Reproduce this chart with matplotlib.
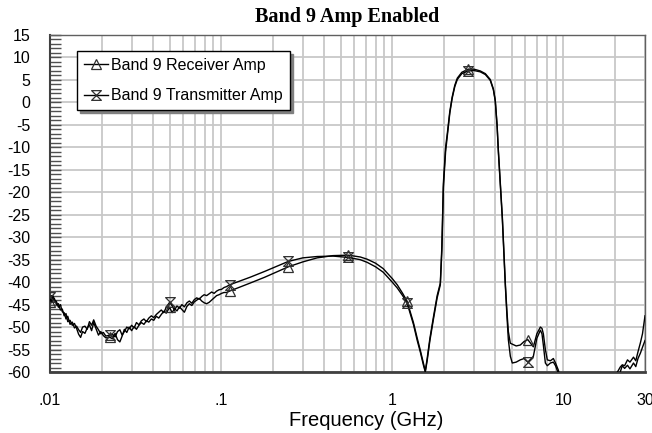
import numpy as np
import matplotlib
matplotlib.use('Agg')
import matplotlib.pyplot as plt
from matplotlib.path import Path
from matplotlib.ticker import FixedLocator, FixedFormatter, MultipleLocator, LogLocator, NullFormatter

title = "Band 9 Amp Enabled"
xlabel = "Frequency (GHz)"
rx_label = "Band 9 Receiver Amp"
tx_label = "Band 9 Transmitter Amp"

xticks = [0.01, 0.1, 1, 10, 30]
xticklabels = [".01", ".1", "1", "10", "30"]
yticks = list(range(-60, 16, 5))

# frequencies where the symbols sit on both traces
marker_freqs = [0.01, 0.0224, 0.05, 0.112, 0.2466, 0.553, 1.22, 2.78, 6.2]

# noisy low band, 0.01 .. 0.112 GHz
low_f = [0.0100, 0.0102, 0.0104, 0.0106, 0.0109, 0.0112, 0.0115, 0.0118, 0.0121, 0.0124,
         0.0127, 0.0131, 0.0135, 0.0139, 0.0143, 0.0147, 0.0151, 0.0155, 0.0160, 0.0165,
         0.0170, 0.0175, 0.0180, 0.0186, 0.0192, 0.0198, 0.0205, 0.0212, 0.0224, 0.0232,
         0.0240, 0.0248, 0.0256, 0.0264, 0.0272, 0.0281, 0.0290, 0.0300, 0.0310, 0.0320,
         0.0331, 0.0342, 0.0354, 0.0366, 0.0378, 0.0391, 0.0404, 0.0418, 0.0432, 0.0447,
         0.0462, 0.0478, 0.0500, 0.0517, 0.0534, 0.0552, 0.0571, 0.0590, 0.0610, 0.0631,
         0.0652, 0.0674, 0.0697, 0.0720, 0.0745, 0.0770, 0.0796, 0.0823, 0.0851, 0.0880,
         0.0910, 0.0941, 0.0973, 0.1006, 0.1040, 0.1075, 0.112]

rx_low = [-44.5, -43.0, -44.2, -43.6, -45.0, -44.8, -46.2, -46.0, -47.5, -47.0,
          -48.8, -48.5, -49.6, -49.2, -50.3, -51.6, -52.3, -51.0, -51.4, -50.2,
          -49.5, -50.8, -49.0, -50.4, -51.8, -51.0, -51.9, -52.4, -52.3, -52.6,
          -51.4, -52.8, -53.3, -52.0, -50.5, -51.2, -50.0, -50.8, -49.9, -50.5,
          -49.6, -49.0, -49.4, -48.6, -48.9, -48.2, -48.5, -47.6, -48.0, -47.2,
          -46.5, -46.9, -45.6, -46.8, -45.9, -46.4, -45.5, -46.1, -46.7, -45.4,
          -44.8, -45.2, -44.4, -44.0, -43.6, -44.2, -44.6, -44.8, -44.5, -44.0,
          -43.5, -43.0, -42.8, -42.5, -42.3, -42.3, -42.0]

tx_low = [-43.2, -44.6, -43.0, -44.0, -44.3, -45.6, -45.0, -46.6, -46.8, -48.2,
          -47.6, -49.4, -48.9, -50.2, -49.8, -50.6, -51.2, -50.0, -49.8, -50.5,
          -48.8, -49.6, -48.4, -49.8, -50.6, -51.5, -51.2, -52.0, -51.8, -51.6,
          -52.2, -51.0, -50.6, -51.8, -51.0, -50.0, -50.4, -49.6, -50.2, -49.0,
          -49.5, -48.6, -48.2, -48.8, -48.0, -47.5, -47.9, -47.2, -46.7, -46.2,
          -46.8, -45.6, -44.5, -45.2, -46.2, -45.3, -45.8, -45.0, -45.5, -44.6,
          -44.2, -44.7, -43.9, -43.5, -43.8, -43.2, -42.8, -43.0, -42.6, -42.2,
          -42.5, -42.0, -41.7, -41.6, -41.2, -41.0, -40.6]

# upper band, 0.148 .. 30 GHz
high_f = [0.148, 0.18, 0.2466, 0.30, 0.364, 0.45, 0.553, 0.65, 0.714, 0.80,
          0.886, 1.0, 1.07, 1.15, 1.22, 1.33, 1.40, 1.46, 1.52, 1.56,
          1.60, 1.66, 1.74, 1.83, 1.91, 1.95, 1.99, 2.05, 2.10, 2.17,
          2.24, 2.32, 2.40, 2.55, 2.78, 3.0, 3.27, 3.5, 3.74, 3.9,
          4.0, 4.1, 4.17, 4.30, 4.40, 4.50, 4.58, 4.68, 4.77, 4.9,
          5.03, 5.3, 5.6, 5.9, 6.2, 6.5, 6.68, 7.0, 7.34, 7.5,
          7.64, 7.85, 8.06, 8.4, 8.74, 9.0, 9.35, 9.6, 12.0, 18.0,
          20.7, 21.5, 22.1, 22.8, 23.7, 24.5, 25.7, 26.5, 27.3, 28.2,
          29.0, 30.0]

rx_high = [-40.2, -38.9, -36.6, -35.5, -34.6, -34.1, -34.0, -34.4, -34.9, -35.8,
           -37.0, -39.2, -40.6, -42.5, -44.2, -49.0, -52.5, -55.2, -58.0, -59.8,
           -57.0, -52.5, -47.8, -43.0, -40.2, -32.0, -18.0, -10.0, -6.8, -2.0,
           1.2, 3.8, 5.4, 6.7, 7.4, 7.4, 7.0, 6.4, 5.1, 3.0,
           0.5, -5.0, -10.6, -19.0, -25.5, -34.0, -40.2, -46.5, -51.0, -53.6,
           -53.8, -54.2, -54.0, -53.2, -52.8, -53.8, -54.4, -51.5, -50.0, -50.3,
           -51.5, -55.0, -57.3, -57.5, -57.0, -58.0, -59.6, -61.5, -68.0, -66.0,
           -60.0, -58.9, -58.4, -58.6, -57.3, -57.8, -56.7, -57.5, -55.5, -53.5,
           -51.5, -47.5]

tx_high = [-38.9, -37.6, -35.4, -34.6, -34.3, -34.2, -34.5, -35.0, -35.6, -36.6,
           -37.8, -40.0, -41.3, -43.0, -44.6, -49.4, -53.0, -55.6, -58.4, -60.0,
           -57.5, -53.0, -48.3, -43.5, -40.6, -33.0, -19.0, -11.0, -7.3, -2.4,
           0.9, 3.5, 5.1, 6.4, 7.0, 7.1, 6.8, 6.2, 4.9, 2.8,
           0.3, -5.3, -11.0, -19.5, -26.0, -34.5, -40.8, -47.5, -52.8, -56.5,
           -58.0, -57.8, -57.3, -57.0, -57.8, -57.0, -56.5, -52.5, -50.7, -51.5,
           -54.0, -58.0, -58.6, -58.0, -57.8, -58.6, -60.3, -62.0, -70.0, -68.0,
           -61.0, -60.0, -58.6, -59.2, -58.5, -59.3, -58.0, -58.8, -57.0, -55.8,
           -54.5, -53.0]

freq = np.array(low_f + high_f)
rx = np.array(rx_low + rx_high)
tx = np.array(tx_low + tx_high)
marks = [int(np.argmin(np.abs(freq - m))) for m in marker_freqs]

# hourglass symbol for the transmitter trace
hourglass = Path([(-1, 1), (1, 1), (-1, -1), (1, -1), (-1, 1)],
                 [Path.MOVETO, Path.LINETO, Path.LINETO, Path.LINETO, Path.CLOSEPOLY])

plt.rcParams['font.family'] = 'Liberation Sans'
plt.rcParams['axes.unicode_minus'] = False

fig = plt.figure(figsize=(6.52, 4.33), dpi=100)
ax = fig.add_axes([50/652, 61/433, 595/652, 337/433])

ax.plot(freq, rx, color='black', lw=1.0, marker='^', markevery=marks, ms=7,
        mfc='none', mec='#303030', mew=0.9, label=rx_label, zorder=3)
ax.plot(freq, tx, color='black', lw=1.0, marker=hourglass, markevery=marks, ms=7,
        mfc='none', mec='#303030', mew=0.9, label=tx_label, zorder=3)

ax.set_xscale('log')
ax.set_xlim(0.01, 30)
ax.set_ylim(-60, 15)

ax.xaxis.set_major_locator(FixedLocator(xticks))
ax.xaxis.set_major_formatter(FixedFormatter(xticklabels))
ax.xaxis.set_minor_locator(LogLocator(base=10, subs=np.arange(2, 10)))
ax.xaxis.set_minor_formatter(NullFormatter())
ax.tick_params(axis='x', which='both', length=0, pad=15, labelsize=11.5)

ax.set_yticks(yticks)
ax.yaxis.set_minor_locator(MultipleLocator(1))
ax.tick_params(axis='y', which='both', direction='in', length=8, width=1,
               color='#505050', pad=14, labelsize=11.5)

ax.grid(True, which='major', color='#c8c8c8', lw=1.3, zorder=0)
ax.grid(True, which='minor', axis='x', color='#c8c8c8', lw=1.3, zorder=0)
ax.set_axisbelow(True)

for side in ['top', 'right']:
    ax.spines[side].set_color('#606060')
    ax.spines[side].set_linewidth(1.0)
ax.spines['left'].set_color('#404040')
ax.spines['left'].set_linewidth(1.5)
ax.spines['bottom'].set_color('#404040')
ax.spines['bottom'].set_linewidth(2.0)

ax.set_xlabel(xlabel, fontsize=14.5)
ax.xaxis.set_label_coords(0.531, -0.115)
fig.text(347/652, 1 - 17/433, title, ha='center', va='center',
         family='Liberation Serif', fontweight='bold', fontsize=14.5)

leg = ax.legend(loc='upper left', bbox_to_anchor=(0.045, 0.953), borderaxespad=0,
                fancybox=False, shadow={'color': '#808080', 'alpha': 1},
                edgecolor='black', framealpha=1, fontsize=11.5,
                handlelength=1.5, handletextpad=0.2, borderpad=0.45, labelspacing=0.95)
leg.get_frame().set_linewidth(1.0)

fig.savefig('out.png', dpi=100)
